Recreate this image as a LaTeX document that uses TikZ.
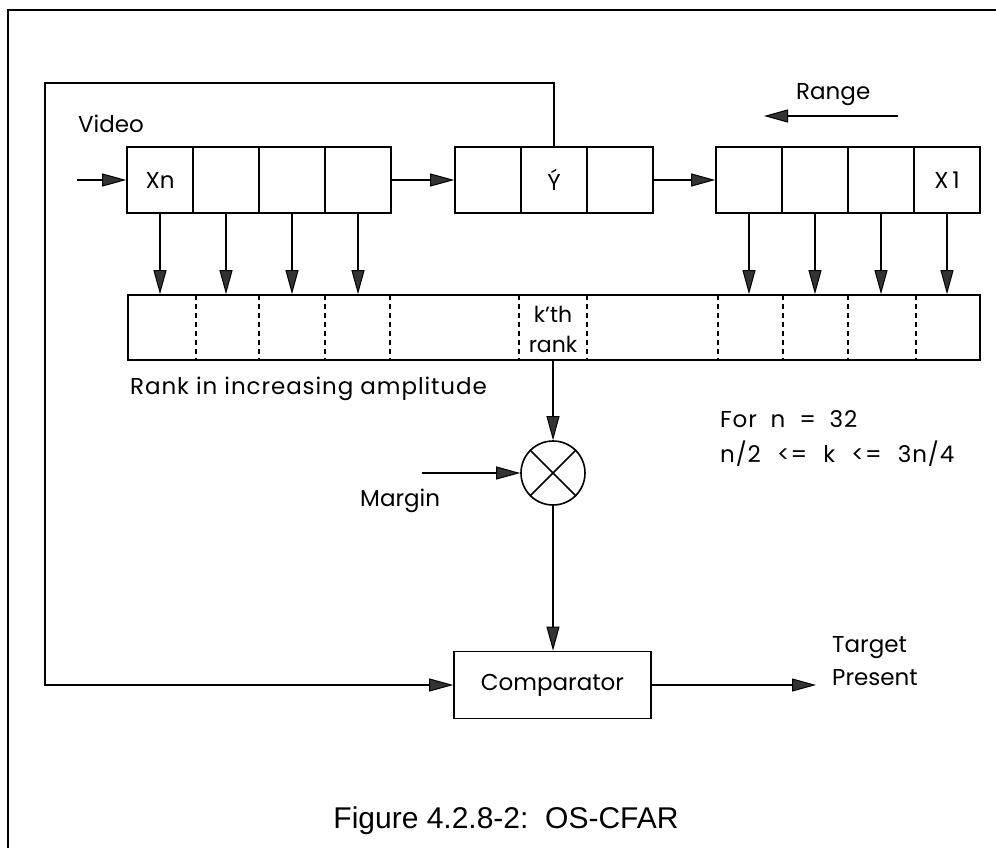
\documentclass[tikz,border=0pt]{standalone}
\usepackage{fontspec}
\setmainfont{Poppins}
\newfontfamily\widefont[LetterSpace=4]{Poppins}
\newfontfamily\capfont{Liberation Sans}
\usetikzlibrary{arrows.meta}
\begin{document}
\begin{tikzpicture}[x=1pt,y=-1pt,
  txt/.style={font=\fontsize{23}{30}\selectfont},
  cell/.style={draw,line width=1.6pt,minimum width=66pt,minimum height=66pt,inner sep=0pt,txt},
  lbl/.style={inner sep=0pt,anchor=base west,txt},
  widelbl/.style={inner sep=0pt,anchor=base west,font=\widefont\fontsize{23}{30}\selectfont},
  conn/.style={line width=1.4pt},
  arr/.style={conn,-{Triangle[length=24pt,width=13pt,open,fill=black!80,line width=1pt]}},
  divider/.style={line width=1.4pt,dash pattern=on 5pt off 4pt},
]
\useasboundingbox (0,0) rectangle (996,848);
\fill[white] (0,0) rectangle (996,848);
% outer frame
\draw[line width=1.8pt] (8,848) -- (8,10) -- (996,10);

% registers
\node[cell] (L1) at (160,180) {Xn};
\node[cell] (L2) at (226,180) {};
\node[cell] (L3) at (292,180) {};
\node[cell] (L4) at (358,180) {};
\node[cell] (M1) at (488,180) {};
\node[cell] (M2) at (554,180) {Ý};
\node[cell] (M3) at (620,180) {};
\node[cell] (R1) at (749,180) {};
\node[cell] (R2) at (815,180) {};
\node[cell] (R3) at (881,180) {};
\node[cell] (R4) at (947,180) {X\,1};

% rank box
\node[draw,line width=1.6pt,minimum width=852pt,minimum height=65pt,inner sep=0pt] (rank) at (554,327.5) {};
\foreach \x in {196,259,325,390,519,587,718,783,848,916}
  \draw[divider] (\x,295) -- (\x,360);
\node[align=center,inner sep=0pt,font=\fontsize{22}{30}\selectfont] (kth) at (553,329) {k’th\\rank};

% multiplier
\node[circle,draw,line width=1.6pt,minimum size=64pt,inner sep=0pt] (mult) at (553,473) {};
\draw[line width=1.6pt] (mult.north west) -- (mult.south east);
\draw[line width=1.6pt] (mult.north east) -- (mult.south west);

% comparator
\node[draw,line width=1.6pt,minimum width=197pt,minimum height=67pt,inner sep=0pt,txt] (comp) at (552.5,685) {Comparator};

% coordinates
\coordinate (in) at (77,180);
\coordinate (mg) at (422,473);
\coordinate (out) at (816,685);
\coordinate (fbl) at (45,83);
\coordinate (rs) at (898,116);
\coordinate (re) at (764,116);

% connectors
\draw[arr] (in) -- (L1.west);
\draw[arr] (L4.east) -- (M1.west);
\draw[arr] (M3.east) -- (R1.west);
\foreach \c in {L1,L2,L3,L4,R1,R2,R3,R4}
  \draw[arr] (\c.south) -- (\c.south |- rank.north);
\draw[arr] (mult.north |- rank.south) -- (mult.north);
\draw[arr] (mg) -- (mult.west);
\draw[arr] (mult.south) -- (mult.south |- comp.north);
\draw[arr] (comp.east) -- (out);
\draw[arr] (M2.north) |- (fbl) |- (comp.west);
\draw[arr] (rs) -- (re);

% labels
\node[lbl] (video) at (78,132) {Video};
\node[lbl] (range) at (796,100) {Range};
\node[widelbl] (ranklbl) at (130,394) {Rank in increasing amplitude};
\node[lbl] (margin) at (360,506) {Margin};
\node[widelbl] (forn) at (720,427) {For\hspace{0.6em}n\hspace{0.6em}=\hspace{0.6em}32};
\node[widelbl] (cond) at (720,462) {n/2\hspace{0.7em}<=\hspace{0.7em}k\hspace{0.7em}<=\hspace{0.7em}3n/4};
\node[lbl] (target) at (832,652) {Target};
\node[lbl] (present) at (832,685) {Present};
\node[inner sep=0pt,anchor=base,font=\capfont\fontsize{30}{36}\selectfont] (caption) at (506,828) {Figure 4.2.8-2:\ \ OS-CFAR};
\end{tikzpicture}
\end{document}
